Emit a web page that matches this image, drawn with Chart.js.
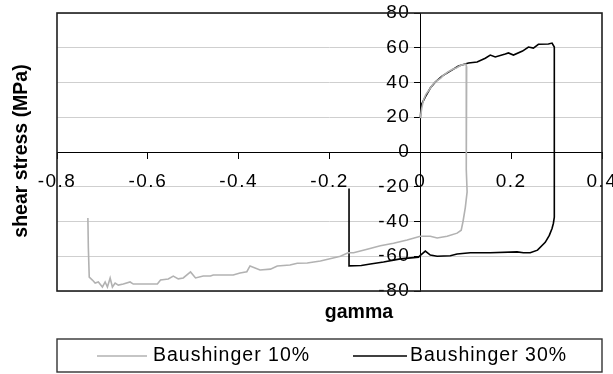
<!DOCTYPE html>
<html lang="en">
<head>
<meta charset="UTF-8">
<title>Baushinger shear test</title>
<script src="https://cdn.jsdelivr.net/npm/chart.js"></script>
<style>
  body { margin: 0; background: #fff; }
  canvas { display: block; }
</style>
</head>
<body>
<canvas id="shearChart" width="613" height="374"></canvas>
<script>
// Baushinger 10% : forward shear to ~0.1, then reversed to about -0.73
const gamma10 = [0, 0.003, 0.007, 0.012, 0.02, 0.028, 0.036, 0.045, 0.05, 0.06, 0.07, 0.08, 0.09, 0.1, 0.102,
  0.1013, 0.101, 0.103, 0.099, 0.094, 0.09, 0.081, 0.059, 0.037, 0.022, 0, -0.029, -0.059, -0.088, -0.117,
  -0.147, -0.159, -0.176, -0.192, -0.22, -0.249, -0.271, -0.287, -0.315, -0.33, -0.353, -0.375, -0.382, -0.397,
  -0.412, -0.456, -0.462, -0.478, -0.495, -0.506, -0.522, -0.533, -0.544, -0.555, -0.572, -0.579, -0.632,
  -0.639, -0.654, -0.665, -0.672, -0.678, -0.683, -0.689, -0.694, -0.7, -0.709, -0.716, -0.722, -0.729,
  -0.731, -0.732];
const stress10 = [19.5, 25, 30, 33, 36, 39, 41, 42.5, 44, 46, 47.5, 48.5, 50, 50.5, 49,
  20, -10, -23, -32, -40, -45, -46.7, -48.5, -49.5, -48.5, -48.5, -50.6, -52.5, -54, -56,
  -58, -58, -60, -61, -62.7, -63.9, -64, -65, -65.6, -67.4, -67.9, -65.6, -68.9, -69.6,
  -70.8, -70.8, -71.4, -71.4, -72.5, -69, -72.5, -73, -71.4, -73.1, -73.7, -76, -76,
  -74.8, -76, -76.6, -75.4, -77.7, -72.5, -77.7, -74.8, -77.7, -74.8, -75.4, -73.7, -72,
  -55, -38];

// Baushinger 30% : forward shear to ~0.3, then reversed to about -0.16
const gamma30 = [0, 0.002, 0.011, 0.022, 0.033, 0.048, 0.062, 0.084, 0.106, 0.125, 0.143, 0.154, 0.165,
  0.187, 0.194, 0.205, 0.225, 0.238, 0.249, 0.26, 0.282, 0.29, 0.295,
  0.295, 0.295, 0.293, 0.29, 0.284, 0.275, 0.258, 0.242, 0.227, 0.213, 0.154, 0.11, 0.081, 0.066,
  0.037, 0.022, 0.011, 0, -0.004, -0.044, -0.081, -0.11, -0.13, -0.157, -0.157];
const stress30 = [19.5, 27, 31.7, 36.8, 40.3, 43.7, 46, 49.5, 51.2, 51.8, 54, 55.8, 54.7,
  56.4, 57, 55.8, 58.1, 60.4, 59.8, 62, 62.2, 62.7, 60.4,
  0, -37.5, -41, -44, -48, -52, -56.5, -58, -58, -57.5, -58, -58, -58.7, -59.7,
  -60, -59.3, -57, -59.5, -60.5, -61.5, -63.3, -64.5, -65.3, -65.5, -21];

const xTicks = { min: -0.8, max: 0.4, step: 0.2 };
const yTicks = { min: -80, max: 80, step: 20 };

const toPoints = (xs, ys) => xs.map((x, i) => ({ x: x, y: ys[i] }));

const FONT = 'Liberation Sans';

// wider text spacing everywhere, and keep the y labels clear of the y axis ticks
const textSetup = {
  id: 'textSetup',
  beforeDraw(chart) {
    chart.ctx.letterSpacing = '1.5px';
    const items = chart.scales.y.getLabelItems();
    if (!items._moved) {
      items.forEach(it => { it.options.translation[0] -= 10; });
      items._moved = true;
    }
  }
};

// plot frame, axis titles and boxed legend
const decorations = {
  id: 'decorations',
  afterDraw(chart) {
    const { ctx, chartArea: a } = chart;
    ctx.save();
    ctx.strokeStyle = '#1e1e1e';
    ctx.lineWidth = 1.6;
    ctx.strokeRect(a.left, a.top, a.right - a.left, a.bottom - a.top);

    ctx.letterSpacing = '0px';
    ctx.fillStyle = '#000';
    ctx.font = 'bold 19.5px "' + FONT + '"';
    ctx.textAlign = 'center';
    ctx.textBaseline = 'middle';
    ctx.fillText('gamma', 359, 313);
    ctx.save();
    ctx.translate(22, 151);
    ctx.rotate(-Math.PI / 2);
    ctx.fillText('shear stress (MPa)', 0, 0);
    ctx.restore();

    // legend
    ctx.strokeStyle = '#333';
    ctx.lineWidth = 1.4;
    ctx.strokeRect(57, 339, 545, 33);
    const items = [
      { x1: 97, x2: 147, tx: 153 },
      { x1: 353, x2: 407, tx: 410 }
    ];
    ctx.letterSpacing = '1px';
    ctx.font = '19.5px "' + FONT + '"';
    ctx.textAlign = 'left';
    chart.data.datasets.forEach((ds, i) => {
      const it = items[i];
      ctx.strokeStyle = ds.borderColor;
      ctx.lineWidth = ds.borderWidth;
      ctx.beginPath();
      ctx.moveTo(it.x1, 356);
      ctx.lineTo(it.x2, 356);
      ctx.stroke();
      ctx.fillStyle = '#000';
      ctx.fillText(ds.label, it.tx, 356);
    });
    ctx.restore();
  }
};

new Chart(document.getElementById('shearChart'), {
  type: 'scatter',
  data: {
    datasets: [{
      label: 'Baushinger 10%',
      data: toPoints(gamma10, stress10),
      showLine: true,
      borderColor: '#b2b2b2',
      borderWidth: 1.6,
      pointRadius: 0,
      tension: 0
    }, {
      label: 'Baushinger 30%',
      data: toPoints(gamma30, stress30),
      showLine: true,
      borderColor: '#000',
      borderWidth: 1.6,
      pointRadius: 0,
      tension: 0
    }]
  },
  options: {
    responsive: false,
    animation: false,
    layout: { padding: { left: 57, top: 13, right: 11, bottom: 83 } },
    plugins: { legend: { display: false }, tooltip: { enabled: false } },
    scales: {
      x: {
        type: 'linear',
        position: { y: 0 },
        min: xTicks.min,
        max: xTicks.max,
        afterFit(scale) { scale.paddingLeft = 0; scale.paddingRight = 0; },
        ticks: {
          stepSize: xTicks.step,
          color: '#000',
          padding: 12,
          font: { family: FONT, size: 19 },
          callback: v => String(Math.round(v * 10) / 10)
        },
        grid: { drawOnChartArea: false, tickLength: 6, tickColor: '#000' },
        border: { color: '#000', width: 1 }
      },
      y: {
        type: 'linear',
        position: { x: 0 },
        min: yTicks.min,
        max: yTicks.max,
        afterFit(scale) { scale.paddingTop = 0; scale.paddingBottom = 0; },
        ticks: { stepSize: yTicks.step, color: '#000', padding: 4, font: { family: FONT, size: 19 } },
        grid: { color: '#cfcfcf', tickLength: 6, tickColor: '#000' },
        border: { color: '#000', width: 1 }
      }
    }
  },
  plugins: [textSetup, decorations]
});
</script>
</body>
</html>
